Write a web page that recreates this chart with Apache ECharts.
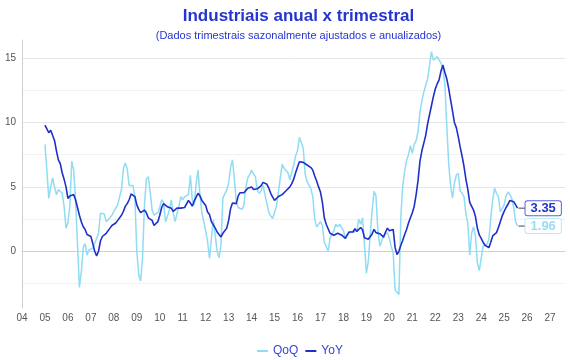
<!DOCTYPE html>
<html><head><meta charset="utf-8">
<script src="https://cdn.jsdelivr.net/npm/echarts@6/dist/echarts.min.js"></script>
<style>html,body{margin:0;padding:0;background:#fff}#c{width:570px;height:360px}</style>
</head><body><div id="c"></div>
<script>
// Monthly data starting January 2005
const startYear = 2005;

const qoq = [
  8.3, 6.3, 4.1, 5.0, 5.7, 5.0, 4.4, 4.8, 4.8, 4.5, 3.5, 1.8,        // 2005
  2.2, 3.5, 7.0, 6.3, 4.0, 0.6, -2.8, -1.6, 0.3, 0.6, -0.3, 0.1,     // 2006
  0.15, 0.25, 0.6, 0.6, 1.4, 2.95, 2.95, 2.9, 2.3, 2.2, 2.6, 2.8,   // 2007
  3.1, 2.95, 3.6, 3.7, 4.8, 6.45, 6.85, 6.4, 5.1, 5.1, 5.1, 4.25,   // 2008
  0.0, -1.8, -2.3, -0.5, 3.6, 5.6, 5.8, 4.6, 3.2, 2.8, 2.85, 3.0,   // 2009
  3.4, 4.0, 3.8, 2.3, 2.7, 3.2, 4.0, 3.0, 2.3, 2.45, 3.5, 4.25,     // 2010
  4.0, 4.25, 4.4, 4.4, 5.9, 4.0, 3.6, 5.2, 6.3, 4.4, 3.0, 2.3,      // 2011
  1.6, 0.75, -0.55, 1.0, 2.45, 1.2, 0.0, -0.5, 0.5, 4.15, 4.25, 4.75, // 2012
  5.3, 6.5, 7.1, 5.6, 3.8, 3.4, 3.25, 3.25, 3.6, 5.0, 5.7, 5.95,    // 2013
  6.3, 6.0, 5.8, 4.75, 4.5, 4.7, 5.1, 4.4, 3.7, 3.0, 2.75, 2.55,    // 2014
  2.45, 3.5, 4.6, 5.7, 6.75, 6.45, 6.4, 6.1, 5.55, 5.5, 6.7, 7.4,   // 2015
  7.8, 8.85, 8.7, 8.0, 6.0, 5.4, 5.3, 4.85, 4.2, 2.5, 1.9, 1.9,     // 2016
  2.3, 2.0, 0.7, 0.8, 0.0, 1.0, 0.9, 1.6, 2.1, 1.9, 2.1, 2.0,       // 2017
  1.6, 1.05, 1.3, 1.5, 1.4, 1.5, 1.65, 1.55, 2.5, 2.1, 2.6, 0.5,    // 2018
  -1.7, -0.8, 1.3, 3.2, 4.65, 4.3, 1.6, 0.4, 0.8, 1.25, 1.3, 1.45,  // 2019
  1.0, 0.35, -0.1, -3.0, -3.0, -3.35, 2.7, 5.1, 6.2, 7.05, 7.5, 8.2, // 2020
  7.6, 8.3, 8.6, 9.3, 10.8, 11.7, 12.35, 12.5, 13.4, 13.5, 15.5, 14.84, // 2021
  14.7, 15.1, 15.1, 14.6, 14.2, 13.0, 9.8, 6.84, 5.1, 4.15, 5.3, 5.9,   // 2022
  6.06, 4.7, 4.5, 4.25, 2.9, 2.2, -0.3, 1.4, 1.9, 1.2, -0.9, -1.5,  // 2023
  -1.5, 0.4, 0.55, 0.55, 0.9, 2.56, 4.0, 4.9, 4.5, 4.25, 3.05, 3.1, // 2024
  3.6, 4.3, 4.6, 4.4, 4.1, 3.4, 2.3, 1.96                            // 2025
];

const yoy = [
  9.8, 9.5, 9.2, 9.4, 9.3, 8.6, 7.8, 7.1, 6.8, 6.1, 5.6, 5.0,       // 2005
  4.1, 4.3, 4.45, 4.4, 4.0, 3.4, 2.8, 2.3, 1.9, 1.7, 1.3, 1.4,      // 2006
  1.15, 0.6, 0.0, -0.35, 0.0, 0.8, 1.15, 1.2, 1.4, 1.5, 1.8, 2.0,   // 2007
  2.05, 2.2, 2.4, 2.5, 2.8, 3.1, 3.5, 3.7, 4.0, 4.45, 4.55, 4.25,   // 2008
  3.6, 3.25, 3.0, 2.95, 3.2, 3.0, 2.6, 2.7, 2.4, 2.0, 2.1, 2.3,     // 2009
  2.8, 3.4, 3.7, 3.85, 3.45, 3.3, 3.35, 3.1, 3.25, 3.35, 3.35, 3.35, // 2010
  3.4, 3.4, 3.5, 3.95, 3.75, 3.5, 3.9, 4.2, 4.5, 4.3, 3.95, 3.95,   // 2011
  3.55, 3.05, 2.85, 2.3, 2.4, 1.8, 1.5, 1.3, 1.12, 1.4, 1.55, 1.8,  // 2012
  2.4, 3.3, 3.75, 3.8, 3.7, 4.3, 4.55, 4.5, 4.55, 4.7, 4.9, 5.0,    // 2013
  5.0, 4.8, 4.7, 4.85, 5.0, 5.1, 5.35, 5.4, 5.2, 4.9, 4.5, 4.2,     // 2014
  3.95, 4.05, 4.25, 4.25, 4.4, 4.55, 4.7, 4.8, 5.0, 5.25, 5.6, 6.1, // 2015
  6.55, 6.95, 6.95, 6.9, 6.8, 6.7, 6.55, 6.5, 6.3, 5.85, 5.45, 5.0, // 2016
  4.6, 3.8, 2.6, 2.1, 1.75, 1.4, 1.3, 1.25, 1.2, 1.4, 1.3, 1.27,    // 2017
  1.15, 1.0, 1.27, 1.5, 1.45, 1.5, 1.75, 1.55, 1.5, 1.85, 1.65, 1.05, // 2018
  1.0, 0.93, 0.93, 1.35, 1.7, 1.45, 1.37, 1.37, 1.3, 1.1, 1.5, 1.8, // 2019
  1.6, 1.55, 1.7, 0.3, -0.25, 0.0, 0.47, 0.85, 1.3, 1.7, 2.2, 2.6,  // 2020
  3.0, 3.5, 4.4, 5.5, 7.0, 7.8, 8.4, 9.0, 9.9, 10.6, 11.3, 12.0,    // 2021
  12.6, 13.0, 13.3, 14.0, 14.45, 13.9, 13.4, 12.65, 11.76, 10.9, 10.0, 9.6, // 2022
  8.9, 8.1, 7.4, 6.6, 5.6, 4.8, 3.8, 3.8, 3.2, 2.7, 1.8, 1.27,      // 2023
  1.0, 0.7, 0.47, 0.36, 0.28, 0.7, 1.19, 1.15, 1.45, 1.85, 2.3, 2.75, // 2024
  3.1, 3.4, 3.65, 3.95, 4.0, 3.85, 3.7, 3.35                         // 2025
];

const yMajorTicks = [0, 5, 10, 15];
const yMinorTicks = [-2.5, 2.5, 7.5, 12.5];
const seriesNames = ['QoQ', 'YoY'];

const FONT = '"Liberation Sans", Arial, sans-serif';
const C_QOQ = '#8fdcf3';
const C_YOY = '#1f30c8';
const C_TITLE = '#2535d0';

function toPairs(arr) { return arr.map((v, i) => [startYear + i / 12, v]); }

function endLabel(color, border) {
  return {
    show: true,
    distance: 1,
    formatter: p => '{l|}{v|' + p.value[1].toFixed(2) + '}',
    rich: {
      l: { width: 7, height: 1, backgroundColor: '#444' },
      v: {
        fontFamily: FONT, fontSize: 13, fontWeight: 'bold',
        color: color, borderColor: border, borderWidth: 1, borderRadius: 2,
        backgroundColor: '#fff', padding: [1, 5, 0, 5], lineHeight: 12
      }
    }
  };
}

const chart = echarts.init(document.getElementById('c'), null, { renderer: 'canvas' });
chart.setOption({
  animation: false,
  backgroundColor: '#fff',
  title: {
    text: 'Industriais anual x trimestral',
    subtext: '(Dados trimestrais sazonalmente ajustados e anualizados)',
    left: 293.5, top: 3, textAlign: 'center', itemGap: 5,
    textStyle: { fontFamily: FONT, fontSize: 17, fontWeight: 'bold', color: C_TITLE },
    subtextStyle: { fontFamily: FONT, fontSize: 11, color: C_TITLE }
  },
  legend: {
    data: seriesNames,
    left: 252, top: 340,
    icon: 'rect', itemWidth: 11, itemHeight: 2, itemGap: 7,
    textStyle: { fontFamily: FONT, fontSize: 12, color: '#3344dd' }
  },
  grid: { left: 22, right: 5, top: 40, bottom: 52, containLabel: false },
  xAxis: {
    type: 'value', min: 2004, max: 2027.65, interval: 1,
    axisLine: { lineStyle: { color: '#cfcfcf' } },
    axisTick: { show: false },
    splitLine: { show: false },
    axisLabel: {
      showMaxLabel: false, margin: 5,
      fontFamily: FONT, fontSize: 10, color: '#555',
      formatter: v => Number.isInteger(v) ? String(v % 100).padStart(2, '0') : ''
    }
  },
  yAxis: [{
    type: 'value', min: -4.4, max: 16.4,
    axisLine: { show: true, lineStyle: { color: '#cfcfcf' } },
    axisTick: { show: false, customValues: yMajorTicks },
    axisLabel: { customValues: yMajorTicks, margin: 6, fontFamily: FONT, fontSize: 10, color: '#555' },
    splitLine: { show: true, lineStyle: { color: '#e6e6e6' } }
  }, {
    type: 'value', min: -4.4, max: 16.4, position: 'left',
    axisLine: { show: false },
    axisTick: { show: false, customValues: yMinorTicks },
    axisLabel: { show: false, customValues: yMinorTicks },
    splitLine: { show: true, lineStyle: { color: '#f1f1f1' } }
  }],
  series: [{
    name: 'QoQ', type: 'line', data: toPairs(qoq), showSymbol: false, symbol: 'none',
    lineStyle: { color: C_QOQ, width: 1.5 }, itemStyle: { color: C_QOQ },
    endLabel: endLabel('#9adcf2', '#bfe9f7')
  }, {
    name: 'YoY', type: 'line', data: toPairs(yoy), showSymbol: false, symbol: 'none',
    lineStyle: { color: C_YOY, width: 1.6 }, itemStyle: { color: C_YOY },
    endLabel: endLabel('#2233cc', '#5563e0')
  }]
});
</script>
</body></html>
